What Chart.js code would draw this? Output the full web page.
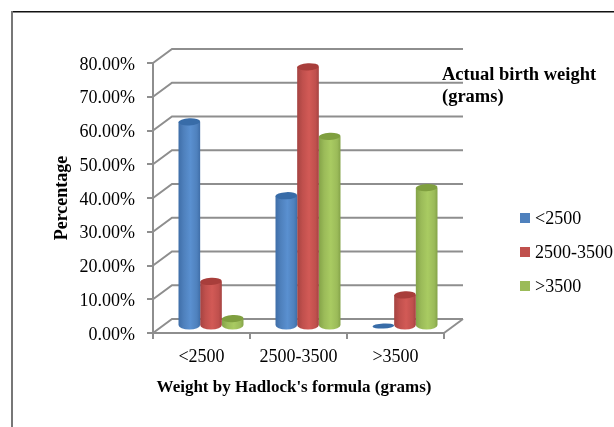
<!DOCTYPE html>
<html>
<head>
<meta charset="utf-8">
<style>
  html, body { margin: 0; background: #fff; }
  #chart { display: block; }
</style>
<script src="https://cdn.jsdelivr.net/npm/chart.js@4"></script>
</head>
<body>
<canvas id="chart" width="614" height="427"></canvas>
<script>
const categories = ['<2500', '2500-3500', '>3500'];
const lowValues = [60.5, 38.6, 0];
const midValues = [13.2, 76.8, 9.2];
const highValues = [2.2, 56.2, 41];
const seriesNames = ['<2500', '2500-3500', '>3500'];
const seriesColors = ['#4f81bd', '#c0504d', '#9bbb59'];
const seriesDark = ['#3f6ea8', '#a54341', '#84a348'];
const seriesLight = ['#5a90d0', '#d25a56', '#a9cb62'];
const topColors = ['#386ca8', '#a83e3b', '#7f9f3f'];
const yTicks = [0, 10, 20, 30, 40, 50, 60, 70, 80];
const titleLines = ['Actual birth weight', '(grams)'];
const xTitle = "Weight by Hadlock's formula (grams)";

const AXIS_GRAY = '#8e8e8e';
const SERIF = '"Liberation Serif", "Times New Roman", serif';
const DEPTH_X = 19, DEPTH_Y = -14;

const wall3d = {
  id: 'wall3d',
  beforeDraw(chart) {
    const { ctx, chartArea: a, scales: { y } } = chart;
    ctx.save();
    // outer frame
    ctx.lineWidth = 1.5;
    ctx.strokeStyle = '#111';
    ctx.beginPath(); ctx.moveTo(11, 11.7); ctx.lineTo(614, 11.7); ctx.stroke();
    ctx.lineWidth = 2;
    ctx.strokeStyle = '#777';
    ctx.beginPath(); ctx.moveTo(12, 11); ctx.lineTo(12, 427); ctx.stroke();
    // back wall gridlines + side wall diagonals
    ctx.strokeStyle = AXIS_GRAY;
    ctx.lineWidth = 2;
    yTicks.forEach(v => {
      const py = y.getPixelForValue(v);
      ctx.beginPath();
      ctx.moveTo(a.left, py);
      ctx.lineTo(a.left + DEPTH_X, py + DEPTH_Y);
      ctx.lineTo(a.right + DEPTH_X, py + DEPTH_Y);
      ctx.stroke();
    });
    // floor, right edge
    const base = y.getPixelForValue(0);
    ctx.beginPath();
    ctx.moveTo(a.right, base);
    ctx.lineTo(a.right + DEPTH_X, base + DEPTH_Y);
    ctx.stroke();
    ctx.restore();
  },
  beforeDatasetDraw(chart, args) {
    const { ctx } = chart;
    const i = args.index;
    const bars = chart.getDatasetMeta(i).data;
    ctx.save();
    ctx.translate(DEPTH_X / 2, DEPTH_Y / 2);
    bars.forEach(bar => {
      const { x, y, base, width } = bar.getProps(['x', 'y', 'base', 'width']);
      const left = x - width / 2;
      const rx = width / 2, ry = 3.6;
      if (base - y < 1) {
        // zero value: only the flat disc
        ctx.fillStyle = topColors[i];
        ctx.beginPath(); ctx.ellipse(x, base, rx, ry * 0.7, -0.05, 0, Math.PI * 2); ctx.fill();
        return;
      }
      const g = ctx.createLinearGradient(left, 0, left + width, 0);
      g.addColorStop(0, seriesDark[i]);
      g.addColorStop(0.25, seriesColors[i]);
      g.addColorStop(0.55, seriesLight[i]);
      g.addColorStop(0.85, seriesColors[i]);
      g.addColorStop(1, seriesDark[i]);
      ctx.fillStyle = g;
      ctx.beginPath();
      ctx.moveTo(left, y);
      ctx.lineTo(left, base);
      ctx.ellipse(x, base, rx, ry + 1, 0, Math.PI, 0, true);
      ctx.lineTo(left + width, y);
      ctx.closePath();
      ctx.fill();
      ctx.fillStyle = topColors[i];
      ctx.beginPath(); ctx.ellipse(x, y, rx, ry, -0.05, 0, Math.PI * 2); ctx.fill();
    });
    ctx.restore();
    return false;
  },
  afterDraw(chart) {
    const { ctx } = chart;
    ctx.save();
    ctx.fillStyle = '#000';
    ctx.textBaseline = 'middle';
    ctx.textAlign = 'left';
    // series title box
    ctx.font = 'bold 18.5px ' + SERIF;
    titleLines.forEach((t, i) => ctx.fillText(t, 442, 75 + i * 22));
    // x axis title sits a little left of the plot centre
    ctx.font = 'bold 17px ' + SERIF;
    ctx.textAlign = 'center';
    ctx.fillText(xTitle, 294, 388);
    // legend
    ctx.textAlign = 'left';
    ctx.font = '18px ' + SERIF;
    seriesNames.forEach((name, i) => {
      const cy = 218 + i * 34;
      ctx.fillStyle = seriesColors[i];
      ctx.fillRect(520, cy - 5, 10, 10);
      ctx.fillStyle = '#000';
      ctx.fillText(name, 535, cy + 1);
    });
    ctx.restore();
  }
};

new Chart(document.getElementById('chart'), {
  type: 'bar',
  data: {
    labels: categories,
    datasets: [
      { label: seriesNames[0], data: lowValues, backgroundColor: seriesColors[0] },
      { label: seriesNames[1], data: midValues, backgroundColor: seriesColors[1] },
      { label: seriesNames[2], data: highValues, backgroundColor: seriesColors[2] },
    ],
  },
  options: {
    responsive: false,
    animation: false,
    layout: { padding: { left: 52, right: 170, top: 63, bottom: 22 } },
    categoryPercentage: 0.67,
    barPercentage: 1,
    plugins: { legend: { display: false }, tooltip: { enabled: false } },
    scales: {
      x: {
        afterFit: s => { s.height = 72; },
        grid: { drawOnChartArea: false, color: AXIS_GRAY, lineWidth: 2, tickLength: 6, offset: true },
        border: { color: AXIS_GRAY, width: 2 },
        ticks: { color: '#000', font: { family: SERIF, size: 18 }, padding: 7, maxRotation: 0 },
      },
      y: {
        min: 0,
        max: 80,
        afterFit: s => { s.width = 101; },
        afterBuildTicks: s => { s.ticks = yTicks.map(value => ({ value })); },
        grid: { drawOnChartArea: false, color: AXIS_GRAY, lineWidth: 2, tickLength: 6 },
        border: { color: AXIS_GRAY, width: 2 },
        ticks: { color: '#000', font: { family: SERIF, size: 18 }, padding: 12, labelOffset: 2, callback: v => v.toFixed(2) + '%' },
        title: { display: true, text: 'Percentage', color: '#000', font: { family: SERIF, size: 18, weight: 'bold' }, padding: 0 },
      },
    },
  },
  plugins: [wall3d],
});
</script>
</body>
</html>
